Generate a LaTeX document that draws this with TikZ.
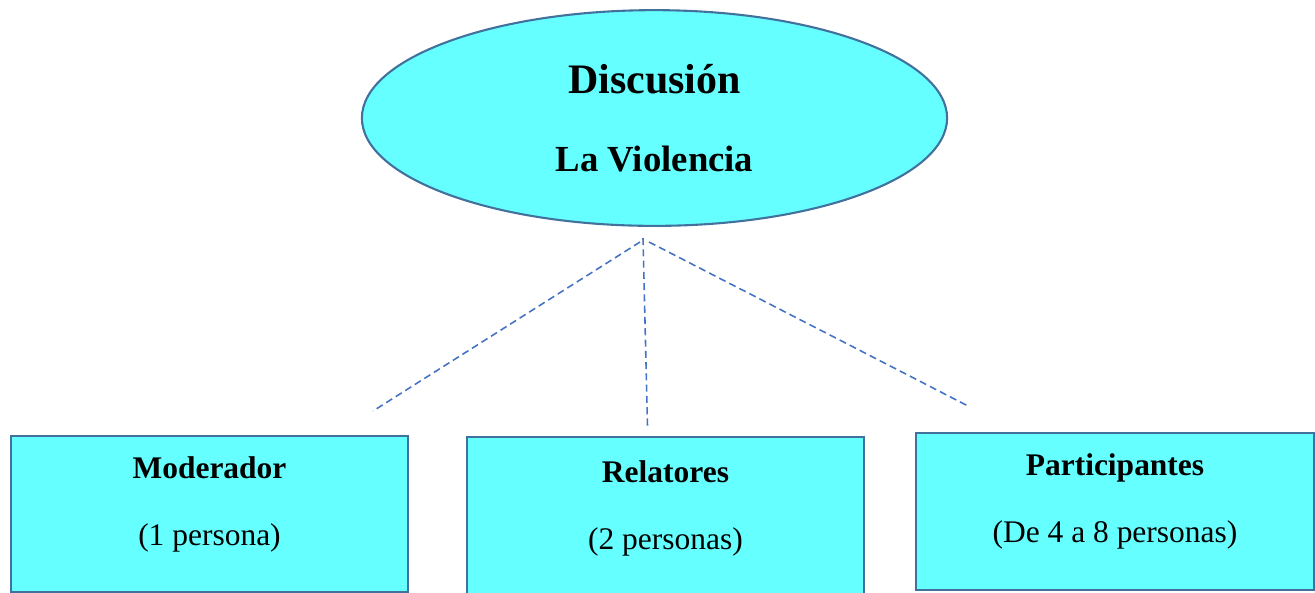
\documentclass[tikz,border=0pt]{standalone}
\usepackage{fontspec}
\setmainfont{Liberation Serif}
\usepackage{xcolor}
\usepackage{tikz}
\usetikzlibrary{shapes.geometric}
\definecolor{fillcyan}{HTML}{66FFFF}
\definecolor{edgeblue}{HTML}{41719C}
\definecolor{dashblue}{HTML}{4472C4}

\begin{document}
\begin{tikzpicture}[x=0.0134cm,y=-0.0134cm,
                    box/.style={draw=edgeblue,line width=0.75pt,fill=fillcyan,minimum width=5.33cm,minimum height=2.1cm,inner sep=0pt,font=\fontsize{12}{14.4}\selectfont},
                    topic/.style={ellipse,draw=edgeblue,line width=0.8pt,fill=fillcyan,minimum width=7.84cm,minimum height=2.89cm,inner sep=0pt,align=center,font=\bfseries},
                    link/.style={dashblue,dashed,line width=0.6pt,dash pattern=on 2.7pt off 1.6pt}]
\useasboundingbox (0,0) rectangle (1315,592);
\node[topic] (disc) at (654.5,118) {\fontsize{16}{19}\selectfont Discusión\\[17.5pt]\fontsize{14}{17}\selectfont La Violencia};
\node[box] (mod) at (209.5,514) {\raisebox{0.8pt}[0pt][0pt]{\begin{tabular}{@{}c@{}}\textbf{Moderador}\\[11.2pt](1 persona)\end{tabular}}};
\node[box,minimum height=2.18cm] (rel) at (665.5,518) {\raisebox{0.8pt}[0pt][0pt]{\begin{tabular}{@{}c@{}}\textbf{Relatores}\\[11.2pt](2 personas)\end{tabular}}};
\node[box] (par) at (1115,511.5) {\raisebox{0.8pt}[0pt][0pt]{\begin{tabular}{@{}c@{}}\textbf{Participantes}\\[11.2pt](De 4 a 8 personas)\end{tabular}}};
% ends of the dashed lines
\coordinate (topl) at (640,242);
\coordinate (topm) at (643,238);
\coordinate (topr) at (649,242);
\coordinate (endl) at (373,411);
\coordinate (endm) at (647.5,426);
\coordinate (endr) at (970,407);
\draw[link] (topl) -- (endl);
\draw[link] (topm) -- (endm);
\draw[link] (topr) -- (endr);
\end{tikzpicture}
\end{document}
